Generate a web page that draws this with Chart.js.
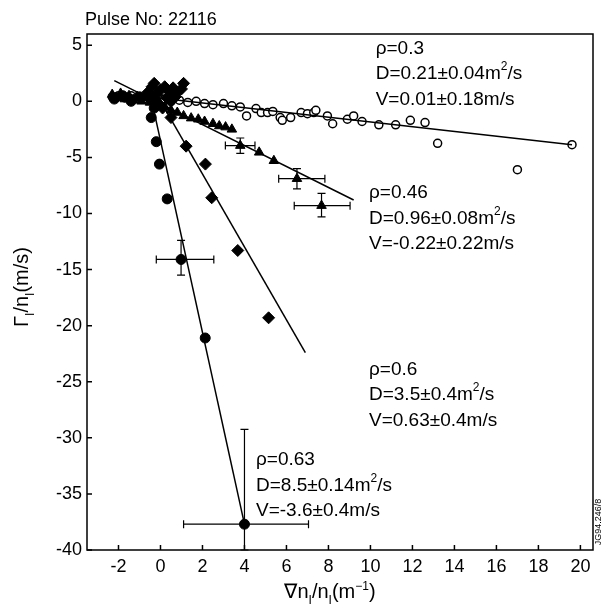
<!DOCTYPE html>
<html>
<head>
<meta charset="utf-8">
<script src="https://cdn.jsdelivr.net/npm/chart.js@4.4.1/dist/chart.umd.min.js"></script>
<style>
  body { margin: 0; background: #fff; }
  canvas { display: block; }
</style>
</head>
<body>
<canvas id="fluxChart" width="608" height="609"></canvas>
<script>
// ---- data ----
var xTicks = [-2, 0, 2, 4, 6, 8, 10, 12, 14, 16, 18, 20];
var yTicks = [5, 0, -5, -10, -15, -20, -25, -30, -35, -40];

// rho = 0.3 (open circles)
var r30x = [-2.3, -2.0, -1.7, -1.4, -1.1, -0.8, -0.5, -0.2, 0.2, 0.5, 0.9, 1.3, 1.7, 2.1, 2.5, 3.0, 3.4, 3.8, 4.1, 4.55, 4.8, 5.1, 5.35, 5.7, 5.8, 6.2, 6.7, 7.0, 7.3, 7.4, 7.95, 8.2, 8.9, 9.2, 9.6, 10.4, 11.2, 11.9, 12.6, 13.2, 17.0, 19.6];
var r30y = [0.4, 0.5, 0.3, 0.5, 0.4, 0.2, 0.3, 0.1, 0.2, 0.0, 0.1, -0.1, 0.0, -0.2, -0.3, -0.2, -0.4, -0.5, -1.3, -0.65, -1.0, -1.0, -0.9, -1.45, -1.7, -1.45, -1.0, -1.1, -1.0, -0.8, -1.3, -2.0, -1.6, -1.3, -1.8, -2.1, -2.1, -1.7, -1.9, -3.75, -6.1, -3.87];

// rho = 0.46 (filled triangles)
var r46x = [-2.3, -2.1, -1.9, -1.7, -1.5, -1.3, -1.1, -0.9, -0.7, -0.5, -0.3, -0.1, 0.2, 0.5, 0.8, 1.1, 1.46, 1.8, 2.1, 2.5, 2.8, 3.1, 3.4, 3.8, 4.7, 5.4, 6.5, 7.67];
var r46y = [0.6, 0.3, 0.7, 0.2, 0.5, 0.1, 0.4, 0.0, 0.3, -0.1, 0.2, -0.3, -0.5, -0.8, -1.0, -1.3, -1.5, -1.6, -1.8, -2.0, -2.2, -2.3, -2.5, -3.95, -4.55, -5.3, -6.9, -9.3];

// rho = 0.6 (diamonds)
var r60x = [-0.6, -0.4, -0.3, -0.2, 0.0, 0.2, 0.4, 0.6, 0.8, 1.0, 1.1, 0.3, 0.5, 0.7, -0.1, 0.1, 0.5, 1.22, 2.14, 2.44, 3.68, 5.15];
var r60y = [0.8, 1.3, 1.6, 0.6, 1.0, 1.3, 0.9, 1.2, 0.8, 1.1, 1.6, 0.3, 0.0, 0.4, -0.2, -0.6, -1.45, -4.0, -5.6, -8.6, -13.3, -19.3];

// rho = 0.63 (filled circles)
var r63x = [-2.2, -1.8, -1.4, -1.0, -0.6, -0.5, -0.3, -0.44, -0.2, -0.05, 0.32, 0.98, 2.13, 4.0];
var r63y = [0.2, 0.5, 0.0, 0.4, 0.6, 0.3, -0.6, -1.45, -3.6, -5.6, -8.7, -14.1, -21.1, -37.7];

// error bars: [x, y, xLow, xHigh, yLow, yHigh]
var errBars = [
  [3.8, -3.95, 3.09, 4.5, -4.64, -3.27],
  [6.5, -6.9, 5.63, 7.83, -7.8, -6.0],
  [7.67, -9.3, 6.37, 9.03, -10.3, -8.2],
  [0.98, -14.1, -0.2, 2.54, -15.5, -12.4],
  [4.0, -37.7, 1.1, 7.05, -40.0, -29.25]
];

// straight-line fits, end points
var fit30x = [-2.2, 19.6], fit30y = [0.75, -3.87];
var fit46x = [-2.2, 9.2], fit46y = [1.84, -8.8];
var fit60x = [-0.3, 6.9], fit60y = [1.0, -22.4];
var fit63x = [-0.4, 4.0], fit63y = [-0.1, -37.7];

// fit results text, anchored in data coordinates
var noteX = [10.25, 9.93, 9.93, 4.55];
var noteY = [4.7, -8.17, -23.9, -32.0];
var noteRho = ['ρ=0.3', 'ρ=0.46', 'ρ=0.6', 'ρ=0.63'];
var noteD = ['D=0.21±0.04m', 'D=0.96±0.08m', 'D=3.5±0.4m', 'D=8.5±0.14m'];
var noteV = ['V=0.01±0.18m/s', 'V=-0.22±0.22m/s', 'V=0.63±0.4m/s', 'V=-3.6±0.4m/s'];

function pts(xs, ys) {
  var out = [];
  for (var i = 0; i < xs.length; i++) out.push({ x: xs[i], y: ys[i] });
  return out;
}

var FONT = '"Liberation Sans", Arial, Helvetica, sans-serif';

// text made of pieces, some of them sub- or superscript; returns width
function richText(ctx, parts, x, y, size, align) {
  var total = 0;
  parts.forEach(function (p) {
    ctx.font = (p.sub || p.sup ? Math.round(size * 0.62) : size) + 'px ' + FONT;
    p.w = ctx.measureText(p.t).width;
    total += p.w;
  });
  var cx = align === 'left' ? x : x - total / 2;
  ctx.textAlign = 'left';
  parts.forEach(function (p) {
    ctx.font = (p.sub || p.sup ? Math.round(size * 0.62) : size) + 'px ' + FONT;
    var dy = p.sub ? size * 0.3 : (p.sup ? -size * 0.38 : 0);
    ctx.fillText(p.t, cx, y + dy);
    cx += p.w;
  });
  return total;
}

var decor = {
  id: 'decor',
  afterDatasetsDraw: function (chart) {
    var ctx = chart.ctx, xs = chart.scales.x, ys = chart.scales.y, a = chart.chartArea;
    ctx.save();
    ctx.strokeStyle = '#000';
    ctx.fillStyle = '#000';

    // error bars
    ctx.lineWidth = 1.2;
    errBars.forEach(function (e) {
      var px = xs.getPixelForValue(e[0]), py = ys.getPixelForValue(e[1]);
      var x0 = xs.getPixelForValue(e[2]), x1 = xs.getPixelForValue(e[3]);
      var y0 = ys.getPixelForValue(e[4]), y1 = ys.getPixelForValue(e[5]);
      ctx.beginPath();
      ctx.moveTo(x0, py); ctx.lineTo(x1, py);
      ctx.moveTo(x0, py - 4); ctx.lineTo(x0, py + 4);
      ctx.moveTo(x1, py - 4); ctx.lineTo(x1, py + 4);
      ctx.moveTo(px, y0); ctx.lineTo(px, y1);
      ctx.moveTo(px - 4, y0); ctx.lineTo(px + 4, y0);
      ctx.moveTo(px - 4, y1); ctx.lineTo(px + 4, y1);
      ctx.stroke();
    });

    // frame and inward ticks
    ctx.lineWidth = 1.5;
    ctx.strokeRect(a.left, a.top, a.right - a.left, a.bottom - a.top);
    ctx.beginPath();
    xTicks.forEach(function (v) {
      var p = xs.getPixelForValue(v);
      ctx.moveTo(p, a.bottom); ctx.lineTo(p, a.bottom - 5);
    });
    yTicks.forEach(function (v) {
      var p = ys.getPixelForValue(v);
      ctx.moveTo(a.left, p); ctx.lineTo(a.left + 5, p);
    });
    ctx.stroke();

    // fit results
    ctx.textBaseline = 'middle';
    for (var i = 0; i < noteX.length; i++) {
      var px = xs.getPixelForValue(noteX[i]), py = ys.getPixelForValue(noteY[i]);
      richText(ctx, [{ t: noteRho[i] }], px, py, 19, 'left');
      richText(ctx, [{ t: noteD[i] }, { t: '2', sup: true }, { t: '/s' }], px, py + 25.5, 19, 'left');
      richText(ctx, [{ t: noteV[i] }], px, py + 51, 19, 'left');
    }

    // pulse label
    ctx.textBaseline = 'alphabetic';
    richText(ctx, [{ t: 'Pulse No: 22116' }], a.left - 2, 25, 18, 'left');

    // axis titles
    richText(ctx, [{ t: '∇n' }, { t: 'I', sub: true }, { t: '/n' }, { t: 'I', sub: true },
      { t: '(m' }, { t: '−1', sup: true }, { t: ')' }], 330, 598, 20);
    ctx.save();
    ctx.translate(28, 287);
    ctx.rotate(-Math.PI / 2);
    richText(ctx, [{ t: 'Γ' }, { t: 'I', sub: true }, { t: '/n' }, { t: 'I', sub: true },
      { t: '(m/s)' }], 0, 0, 20);
    ctx.restore();

    // figure code on the right edge
    ctx.save();
    ctx.translate(601, 522);
    ctx.rotate(-Math.PI / 2);
    ctx.font = '9px ' + FONT;
    ctx.textAlign = 'center';
    ctx.fillText('JG94.246/8', 0, 0);
    ctx.restore();

    ctx.restore();
  }
};

var tickFont = { family: FONT, size: 18 };

var ctx = document.getElementById('fluxChart').getContext('2d');
var fluxChart = new Chart(ctx, {
  type: 'scatter',
  data: {
    datasets: [
      { data: pts(fit30x, fit30y), showLine: true, pointRadius: 0, borderColor: '#000', borderWidth: 1.5, order: 0 },
      { data: pts(fit46x, fit46y), showLine: true, pointRadius: 0, borderColor: '#000', borderWidth: 1.5, order: 0 },
      { data: pts(fit60x, fit60y), showLine: true, pointRadius: 0, borderColor: '#000', borderWidth: 1.5, order: 0 },
      { data: pts(fit63x, fit63y), showLine: true, pointRadius: 0, borderColor: '#000', borderWidth: 1.5, order: 0 },
      { data: pts(r30x, r30y), pointStyle: 'circle', pointRadius: 4, borderWidth: 1.5,
        borderColor: '#000', backgroundColor: '#fff', order: 5 },
      { data: pts(r46x, r46y), pointStyle: 'triangle', pointRadius: 5.5, borderWidth: 1,
        borderColor: '#000', backgroundColor: '#000', order: 2 },
      { data: pts(r60x, r60y), pointStyle: 'rectRot', pointRadius: 6, borderWidth: 1,
        borderColor: '#000', backgroundColor: '#000', order: 2 },
      { data: pts(r63x, r63y), pointStyle: 'circle', pointRadius: 5, borderWidth: 1,
        borderColor: '#000', backgroundColor: '#000', order: 2 }
    ]
  },
  options: {
    responsive: false,
    animation: false,
    layout: { padding: { top: 34, right: 15, left: 0, bottom: 0 } },
    plugins: { legend: { display: false }, tooltip: { enabled: false } },
    scales: {
      x: {
        type: 'linear', min: -3.5, max: 20.6,
        grid: { display: false, drawTicks: false },
        border: { display: false },
        ticks: { font: tickFont, color: '#000', padding: 6, maxRotation: 0, autoSkip: false },
        afterBuildTicks: function (s) { s.ticks = xTicks.map(function (v) { return { value: v }; }); },
        afterFit: function (s) { s.height = 59; }
      },
      y: {
        type: 'linear', min: -40, max: 6,
        grid: { display: false, drawTicks: false },
        border: { display: false },
        ticks: { font: tickFont, color: '#000', padding: 5, autoSkip: false },
        afterBuildTicks: function (s) { s.ticks = yTicks.map(function (v) { return { value: v }; }); },
        afterFit: function (s) { s.width = 87; }
      }
    }
  },
  plugins: [decor]
});
</script>
</body>
</html>
